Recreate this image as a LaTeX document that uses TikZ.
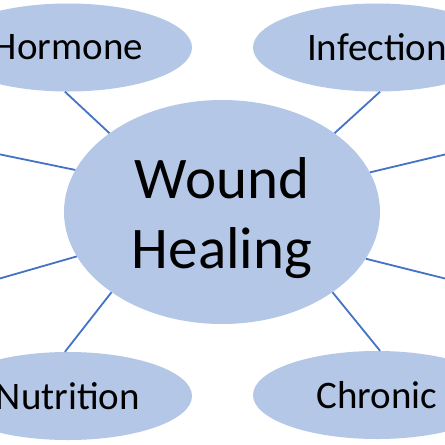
\documentclass[tikz,border=0pt]{standalone}
\usepackage{fontspec}
\setmainfont{Carlito}
\usetikzlibrary{shapes.geometric}
\definecolor{bubble}{RGB}{180,199,231}
\definecolor{linkblue}{RGB}{68,114,196}
\tikzset{
  bubble/.style={ellipse, fill=bubble, draw=none, inner sep=0pt},
  small/.style={bubble, minimum width=248pt, minimum height=88pt, font=\fontsize{39}{46}\selectfont},
  link/.style={draw=linkblue, line width=1.8pt}
}
\begin{document}
\begin{tikzpicture}[x=1pt,y=-1pt]
\useasboundingbox (0,0) rectangle (445,445);
\clip (0,0) rectangle (445,445);
\fill[white] (0,0) rectangle (445,445);
\node[bubble, minimum width=316pt, minimum height=224pt] (c) at (222,212) {};
\node[align=center, font=\fontsize{59}{70}\selectfont] (t) at (222,218) {Wound\\Healing};
\node[small] (hor) at (68,47.5) {\raisebox{-2pt}{Hormone}};
\node[small] (inf) at (377,47.5) {\raisebox{-2pt}{Infection}};
\node[small] (nut) at (68,396) {\raisebox{-1pt}{Nutrition}};
\node[small] (chr) at (377,395) {\raisebox{-1pt}{Chronic}};
\coordinate (lu) at (-2,154);
\coordinate (ll) at (-2,279);
\coordinate (ru) at (447,154);
\coordinate (rl) at (447,279);
\draw[link] (hor.266) -- (c.145);
\draw[link] (inf.274) -- (c.35);
\draw[link] (lu) -- (c.164.3);
\draw[link] (ll) -- (c.197.5);
\draw[link] (ru) -- (c.15.8);
\draw[link] (rl) -- (c.342.4);
\draw[link] (nut.94) -- (c.216.1);
\draw[link] (chr.86) -- (c.324.4);
\end{tikzpicture}
\end{document}
